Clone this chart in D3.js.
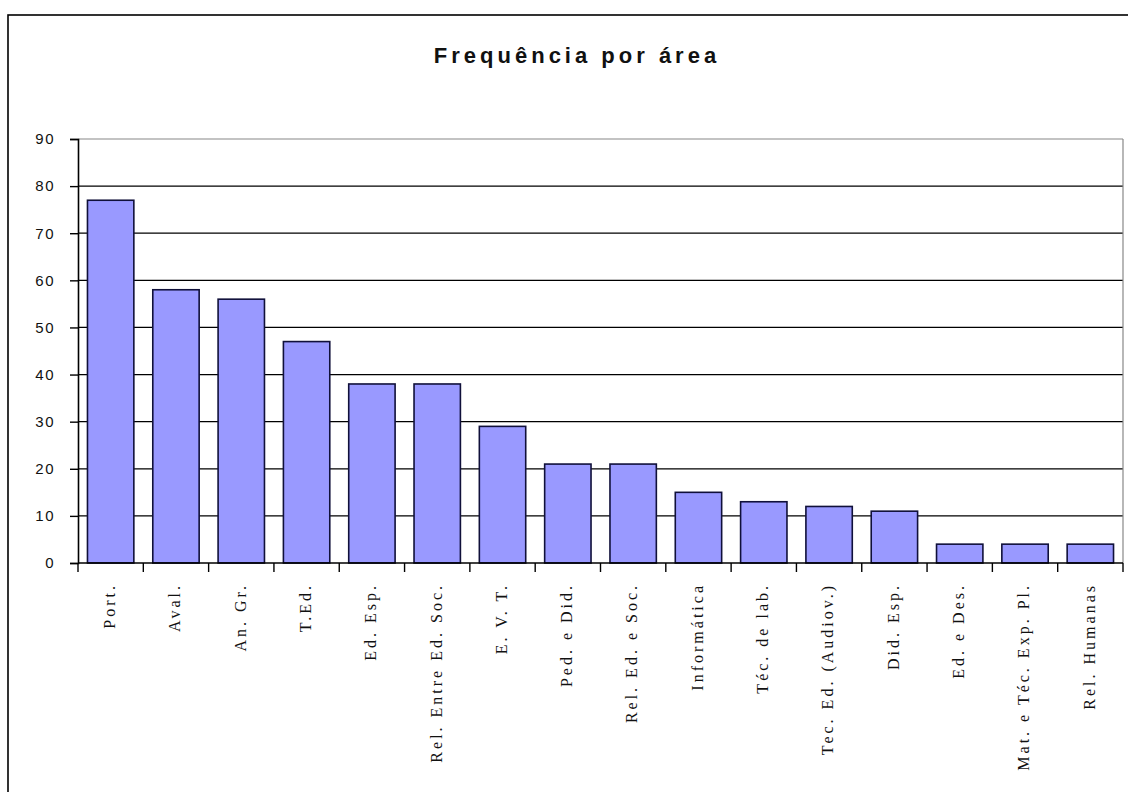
<!DOCTYPE html>
<html><head><meta charset="utf-8">
<script src="https://cdn.jsdelivr.net/npm/d3@7"></script>
<style>body{margin:0;background:#fff}svg{display:block}</style>
</head><body>
<svg id="c" width="1128" height="792"></svg>
<script>
const categories = ["Port.","Aval.","An. Gr.","T.Ed.","Ed. Esp.","Rel. Entre Ed. Soc.","E. V. T.","Ped. e Did.","Rel. Ed. e Soc.","Informática","Téc. de lab.","Tec. Ed. (Audiov.)","Did. Esp.","Ed. e Des.","Mat. e Téc. Exp. Pl.","Rel. Humanas"];
const values = [77,58,56,47,38,38,29,21,21,15,13,12,11,4,4,4];
const yTicks = [0,10,20,30,40,50,60,70,80,90];
const title = "Frequência por área";

const svg = d3.select("#c");
const L = 78, R = 1123, T = 139, B = 563;

svg.append("rect").attr("x",8).attr("y",15).attr("width",1200).attr("height",900)
  .attr("fill","#fff").attr("stroke","#000").attr("stroke-width",1.6);

svg.append("text").attr("x",577).attr("y",63).attr("text-anchor","middle")
  .attr("font-family","Liberation Sans, Arial, sans-serif").attr("font-weight","bold")
  .attr("font-size",22).attr("letter-spacing",4).attr("fill","#111").text(title);

const y = d3.scaleLinear().domain([0,90]).range([B,T]);
const x = d3.scaleBand().domain(categories).range([L,R]).paddingInner(0.29).paddingOuter(0.145);
const step = x.step();

// gridlines
svg.append("g").selectAll("line").data(yTicks.filter(d=>d>0)).join("line")
  .attr("x1",L).attr("x2",R).attr("y1",d=>y(d)).attr("y2",d=>y(d))
  .attr("stroke",d=>d===90?"#888":"#000").attr("stroke-width",d=>d===90?1.2:1.3);
// right plot border
svg.append("line").attr("x1",R).attr("x2",R).attr("y1",T).attr("y2",B).attr("stroke","#888").attr("stroke-width",1.2);

// bars
svg.append("g").selectAll("rect").data(values).join("rect")
  .attr("x",(d,i)=>x(categories[i])).attr("width",x.bandwidth())
  .attr("y",d=>y(d)).attr("height",d=>B-y(d))
  .attr("fill","#9999ff").attr("stroke","#10103a").attr("stroke-width",1.6);

// y axis
const yAxis = svg.append("g").attr("transform",`translate(${L},0)`)
  .call(d3.axisLeft(y).tickValues(yTicks).tickSize(8).tickPadding(14));
yAxis.select(".domain").attr("stroke","#000").attr("stroke-width",1.6);
yAxis.selectAll(".tick line").attr("stroke","#000").attr("stroke-width",1.4);
yAxis.selectAll(".tick text").attr("font-family","Liberation Sans, Arial, sans-serif")
  .attr("font-size",15).attr("letter-spacing",1.5).attr("fill","#111").attr("dx","-1");

// x axis
const xAxis = svg.append("g").attr("transform",`translate(0,${B})`);
xAxis.append("line").attr("x1",L).attr("x2",R).attr("stroke","#000").attr("stroke-width",1.6);
const bounds = categories.map(c=>x(c)-step*0.145).concat([R]);
xAxis.selectAll("line.t").data(bounds).join("line").attr("class","t")
  .attr("x1",d=>d).attr("x2",d=>d).attr("y1",0).attr("y2",9).attr("stroke","#000").attr("stroke-width",1.4);
xAxis.selectAll("text").data(categories).join("text")
  .attr("transform",d=>`translate(${x(d)+x.bandwidth()/2-1},20) rotate(-90)`)
  .attr("text-anchor","end").attr("dy","0.33em")
  .attr("font-family","Liberation Serif, Times New Roman, serif").attr("font-size",16)
  .attr("letter-spacing",3).attr("fill","#111").text(d=>d);
</script>
</body></html>
